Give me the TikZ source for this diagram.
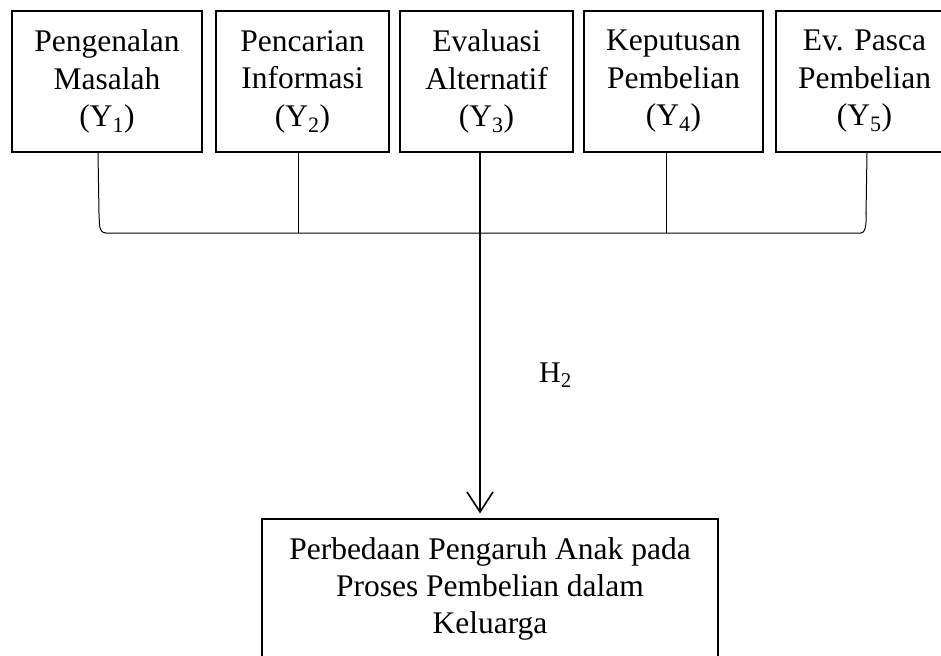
\documentclass[tikz,border=0pt]{standalone}
\usepackage{fontspec}
\setmainfont{Liberation Serif}
\usetikzlibrary{arrows.meta}
\begin{document}
\begin{tikzpicture}[x=1pt,y=-1pt,
  box/.style={draw,line width=1.2pt,minimum height=141pt,inner sep=0pt,align=center,
    font=\fontsize{31.5}{37.5}\selectfont},
  bigbox/.style={draw,line width=1.2pt,inner sep=0pt,minimum width=456pt,minimum height=140pt,align=center,
    font=\fontsize{31.5}{37}\selectfont},
  link/.style={line width=1pt},
  mainarrow/.style={line width=1.6pt,-{Straight Barb[length=20pt,width=26pt,line width=1.6pt]}}]
\useasboundingbox (0,0) rectangle (941,655);
\clip (0,0) rectangle (941,655);
\node[box,minimum width=190pt] (b1) at (107,81.5) {Pengenalan\\Masalah\\(Y\textsubscript{1})};
\node[box,minimum width=173pt] (b2) at (302.5,81.5) {Pencarian\\Informasi\\(Y\textsubscript{2})};
\node[box,minimum width=173pt] (b3) at (486.5,81.5) {Evaluasi\\Alternatif\\(Y\textsubscript{3})};
\node[box,minimum width=179pt] (b4) at (673.5,81.5) {Keputusan\\Pembelian\\(Y\textsubscript{4})};
\node[box,minimum width=177pt] (b5) at (864.5,81.5) {Ev. Pasca\\Pembelian\\(Y\textsubscript{5})};
\node[bigbox] (res) at (490,589) {Perbedaan Pengaruh Anak pada\\Proses Pembelian dalam\\Keluarga};
\node[anchor=base west,inner sep=0pt,font=\fontsize{30}{36}\selectfont] (h2) at (539,382) {H\textsubscript{2}};
\coordinate (l1) at (99,214);
\coordinate (l2) at (106,233);
\coordinate (r2) at (861,233);
\coordinate (r1) at (866,214);
\coordinate (m2) at (298,233);
\coordinate (m4) at (666,233);
\draw[link] (b1.south -| 98,0) -- (l1) to[out=-85,in=180] (l2) -- (r2) to[out=0,in=95] (r1) -- (b5.south -| 867,0);
\draw[link] (b2.south -| m2) -- (m2);
\draw[link] (b4.south -| m4) -- (m4);
\draw[mainarrow,shorten >=5pt] (b3.south -| 480,0) -- (res.north -| 480,0);
\end{tikzpicture}
\end{document}
